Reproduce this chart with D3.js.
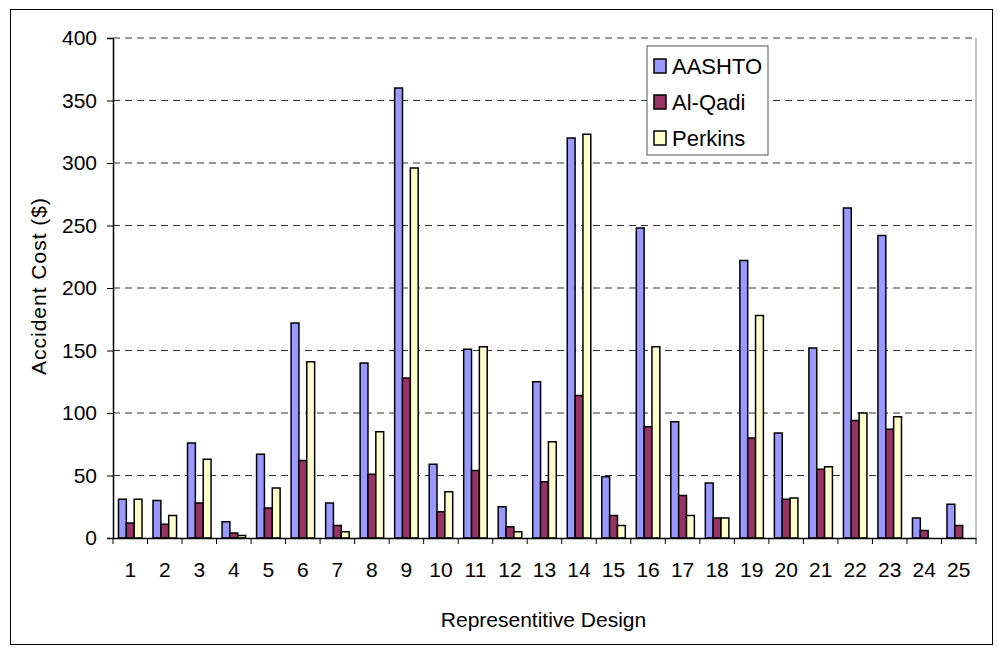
<!DOCTYPE html>
<html><head><meta charset="utf-8">
<script src="https://cdn.jsdelivr.net/npm/d3@7"></script>
<style>body{margin:0;background:#fff}text{font-family:"Liberation Sans Narrow","Arial Narrow",Arial,sans-serif}</style>
</head><body>
<svg id="chart" width="998" height="650"></svg>
<script>
var categories = d3.range(1, 26).map(String);
var seriesNames = ["AASHTO", "Al-Qadi", "Perkins"];
var aashto = [31,30,76,13,67,172,28,140,360,59,151,25,125,320,49,248,93,44,222,84,152,264,242,16,27];
var alqadi = [12,11,28,4,24,62,10,51,128,21,54,9,45,114,18,89,34,16,80,31,55,94,87,6,10];
var perkins = [31,18,63,2,40,141,5,85,296,37,153,5,77,323,10,153,18,16,178,32,57,100,97,0,0];
var yTicks = [0,50,100,150,200,250,300,350,400];
var colors = ["#9999ff", "#993366", "#ffffcc"];
var series = [aashto, alqadi, perkins];
var FONT = "'Liberation Sans Narrow','Arial Narrow',Arial,sans-serif";

var svg = d3.select("#chart");
svg.append("rect").attr("x",10.5).attr("y",9.5).attr("width",982).attr("height",635)
  .attr("fill","none").attr("stroke","#000");

var pLeft = 113, pRight = 976, pTop = 38, pBottom = 538;
var x = d3.scaleBand().domain(categories).range([pLeft, pRight]);
var y = d3.scaleLinear().domain([0, 400]).range([pBottom, pTop]);
var inner = d3.scaleBand().domain(d3.range(3)).range([0, x.bandwidth()]).paddingOuter(0.7).paddingInner(0);

// gridlines
svg.append("g").selectAll("line").data(yTicks.slice(1)).enter().append("line")
  .attr("x1", pLeft).attr("x2", pRight).attr("y1", d => y(d)).attr("y2", d => y(d))
  .attr("stroke", "#333").attr("stroke-dasharray", "7,5").attr("stroke-width", 1);

// bars
series.forEach(function(vals, s) {
  svg.append("g").selectAll("rect").data(vals).enter().append("rect")
    .attr("x", (d, i) => x(categories[i]) + inner(s))
    .attr("y", d => y(d))
    .attr("width", inner.bandwidth())
    .attr("height", d => pBottom - y(d))
    .attr("fill", colors[s]).attr("stroke", "#000").attr("stroke-width", 1.5)
    .style("display", d => d > 0 ? null : "none");
});

// axes
svg.append("g").attr("transform", "translate(" + pLeft + ",0)")
  .call(d3.axisLeft(y).tickValues(yTicks).tickSize(6).tickPadding(10));
var xAxis = svg.append("g").attr("transform", "translate(0," + pBottom + ")")
  .call(d3.axisBottom(x).tickSize(0).tickPadding(24));
xAxis.selectAll(".tick").append("line").attr("x1", -x.bandwidth()/2).attr("x2", -x.bandwidth()/2)
  .attr("y1", 0).attr("y2", 6).attr("stroke", "#000");
xAxis.append("line").attr("x1", pRight).attr("x2", pRight).attr("y1", 0).attr("y2", 6).attr("stroke", "#000");
svg.append("line").attr("x1", pRight).attr("x2", pRight).attr("y1", pTop).attr("y2", pBottom).attr("stroke", "#888");
svg.selectAll(".tick text").attr("font-size", 21).attr("fill", "#000").attr("font-family", FONT);
svg.selectAll(".domain").attr("stroke", "#000").attr("stroke-width", 1.5);

svg.append("text").attr("x", (pLeft + pRight) / 2 - 1).attr("y", 627).attr("text-anchor", "middle")
  .attr("font-size", 21).text("Representitive Design");
svg.append("text").attr("transform", "translate(46," + ((pTop + pBottom) / 2 - 2) + ") rotate(-90)")
  .attr("text-anchor", "middle").attr("font-size", 21).attr("letter-spacing", 1).text("Accident Cost ($)");

// legend
var lg = svg.append("g").attr("transform", "translate(647,46)");
lg.append("rect").attr("x", 0).attr("y", 0).attr("width", 121).attr("height", 109)
  .attr("fill", "#fff").attr("stroke", "#555");
seriesNames.forEach(function(n, i) {
  lg.append("rect").attr("x", 7).attr("y", 13 + i * 36).attr("width", 12).attr("height", 14)
    .attr("fill", colors[i]).attr("stroke", "#000").attr("stroke-width", 1.5);
  lg.append("text").attr("x", 25).attr("y", 28 + i * 36).attr("font-size", 22).text(n);
});
</script>
</body></html>
